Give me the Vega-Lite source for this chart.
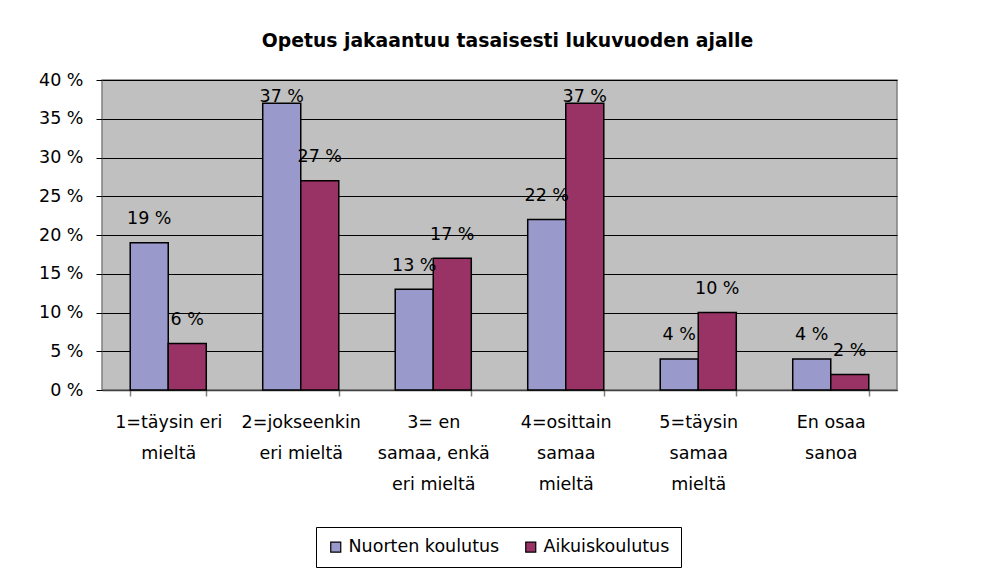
{
  "$schema": "https://vega.github.io/schema/vega-lite/v6.json",
  "autosize": {"type": "none"},
  "width": 795,
  "height": 310,
  "padding": {"left": 102, "top": 80, "right": 102, "bottom": 182},
  "background": "white",
  "title": {
    "text": "Opetus jakaantuu tasaisesti lukuvuoden ajalle",
    "font": "DejaVu Sans",
    "fontSize": 18.8,
    "fontWeight": "bold",
    "color": "black",
    "anchor": "middle",
    "offset": 5,
    "dx": 8,
    "baseline": "alphabetic"
  },
  "config": {
    "font": "DejaVu Sans",
    "view": {"fill": "#C0C0C0", "stroke": "#808080", "strokeWidth": 1.5}
  },
  "data": {
    "values": [
      {"kategoria": "1=täysin eri mieltä", "ryhma": "Nuorten koulutus", "arvo": 19},
      {"kategoria": "1=täysin eri mieltä", "ryhma": "Aikuiskoulutus", "arvo": 6},
      {"kategoria": "2=jokseenkin eri mieltä", "ryhma": "Nuorten koulutus", "arvo": 37},
      {"kategoria": "2=jokseenkin eri mieltä", "ryhma": "Aikuiskoulutus", "arvo": 27},
      {"kategoria": "3= en samaa, enkä eri mieltä", "ryhma": "Nuorten koulutus", "arvo": 13},
      {"kategoria": "3= en samaa, enkä eri mieltä", "ryhma": "Aikuiskoulutus", "arvo": 17},
      {"kategoria": "4=osittain samaa mieltä", "ryhma": "Nuorten koulutus", "arvo": 22},
      {"kategoria": "4=osittain samaa mieltä", "ryhma": "Aikuiskoulutus", "arvo": 37},
      {"kategoria": "5=täysin samaa mieltä", "ryhma": "Nuorten koulutus", "arvo": 4},
      {"kategoria": "5=täysin samaa mieltä", "ryhma": "Aikuiskoulutus", "arvo": 10},
      {"kategoria": "En osaa sanoa", "ryhma": "Nuorten koulutus", "arvo": 4},
      {"kategoria": "En osaa sanoa", "ryhma": "Aikuiskoulutus", "arvo": 2}
    ]
  },
  "encoding": {
    "x": {
      "field": "kategoria",
      "type": "nominal",
      "sort": null,
      "scale": {"paddingInner": 0.426, "paddingOuter": 0.213},
      "axis": {
        "title": null,
        "labelAngle": 0,
        "tickBand": "extent",
        "grid": false,
        "domainColor": "#404040",
        "domainWidth": 1.5,
        "tickColor": "#808080",
        "tickSize": 6,
        "tickWidth": 1.5,
        "labelFont": "DejaVu Sans",
        "labelFontSize": 17.5,
        "labelColor": "black",
        "labelLineHeight": 31,
        "labelBaseline": "top",
        "labelPadding": 17,
        "labelLimit": 0,
        "labelExpr": "({'1=täysin eri mieltä': ['1=täysin eri', 'mieltä'], '2=jokseenkin eri mieltä': ['2=jokseenkin', 'eri mieltä'], '3= en samaa, enkä eri mieltä': ['3= en', 'samaa, enkä', 'eri mieltä'], '4=osittain samaa mieltä': ['4=osittain', 'samaa', 'mieltä'], '5=täysin samaa mieltä': ['5=täysin', 'samaa', 'mieltä'], 'En osaa sanoa': ['En osaa', 'sanoa']})[datum.value]"
      }
    },
    "xOffset": {"field": "ryhma", "type": "nominal", "sort": ["Nuorten koulutus", "Aikuiskoulutus"], "scale": {"paddingInner": 0, "paddingOuter": 0}}
  },
  "layer": [
    {
      "mark": {"type": "bar", "stroke": "black", "strokeWidth": 1.5},
      "encoding": {
        "y": {
          "field": "arvo",
          "type": "quantitative",
          "scale": {"domain": [0, 40], "nice": false},
          "axis": {
            "title": null,
            "values": [0, 5, 10, 15, 20, 25, 30, 35, 40],
            "labelExpr": "datum.value + ' %'",
            "labelOverlap": false,
            "grid": true,
            "gridColor": "black",
            "gridWidth": 1,
            "gridOpacity": 1,
            "domain": false,
            "tickColor": "black",
            "tickSize": 6,
            "tickWidth": 1,
            "labelFont": "DejaVu Sans",
            "labelFontSize": 17.5,
            "labelColor": "black",
            "labelPadding": 13
          }
        },
        "color": {
          "field": "ryhma",
          "type": "nominal",
          "sort": ["Nuorten koulutus", "Aikuiskoulutus"],
          "scale": {"domain": ["Nuorten koulutus", "Aikuiskoulutus"], "range": ["#9999CC", "#993366"]},
          "legend": {
            "title": null,
            "orient": "none",
            "legendX": 214,
            "legendY": 447,
            "direction": "horizontal",
            "strokeColor": "black",
            "fillColor": "white",
            "padding": 11,
            "symbolType": "square",
            "symbolSize": 100,
            "symbolStrokeColor": "black",
            "symbolStrokeWidth": 1.2,
            "symbolOpacity": 1,
            "labelFont": "DejaVu Sans",
            "labelFontSize": 17.5,
            "labelColor": "black",
            "labelLimit": 0,
            "columnPadding": 22
          }
        }
      }
    },
    {
      "transform": [
        {"calculate": "min(datum.arvo + 2.4, 37.2)", "as": "labelPos"},
        {"calculate": "datum.arvo + ' %'", "as": "labelText"}
      ],
      "mark": {"type": "text", "baseline": "alphabetic", "align": "center", "fontSize": 17.5, "font": "DejaVu Sans", "color": "black"},
      "encoding": {
        "y": {
          "field": "labelPos",
          "type": "quantitative",
          "axis": {
            "title": null,
            "values": [0, 5, 10, 15, 20, 25, 30, 35, 40],
            "labelExpr": "datum.value + ' %'",
            "labelOverlap": false,
            "grid": true,
            "gridColor": "black",
            "gridWidth": 1,
            "gridOpacity": 1,
            "domain": false,
            "tickColor": "black",
            "tickSize": 6,
            "tickWidth": 1,
            "labelFont": "DejaVu Sans",
            "labelFontSize": 17.5,
            "labelColor": "black",
            "labelPadding": 13
          }
        },
        "text": {"field": "labelText", "type": "nominal"}
      }
    }
  ]
}
